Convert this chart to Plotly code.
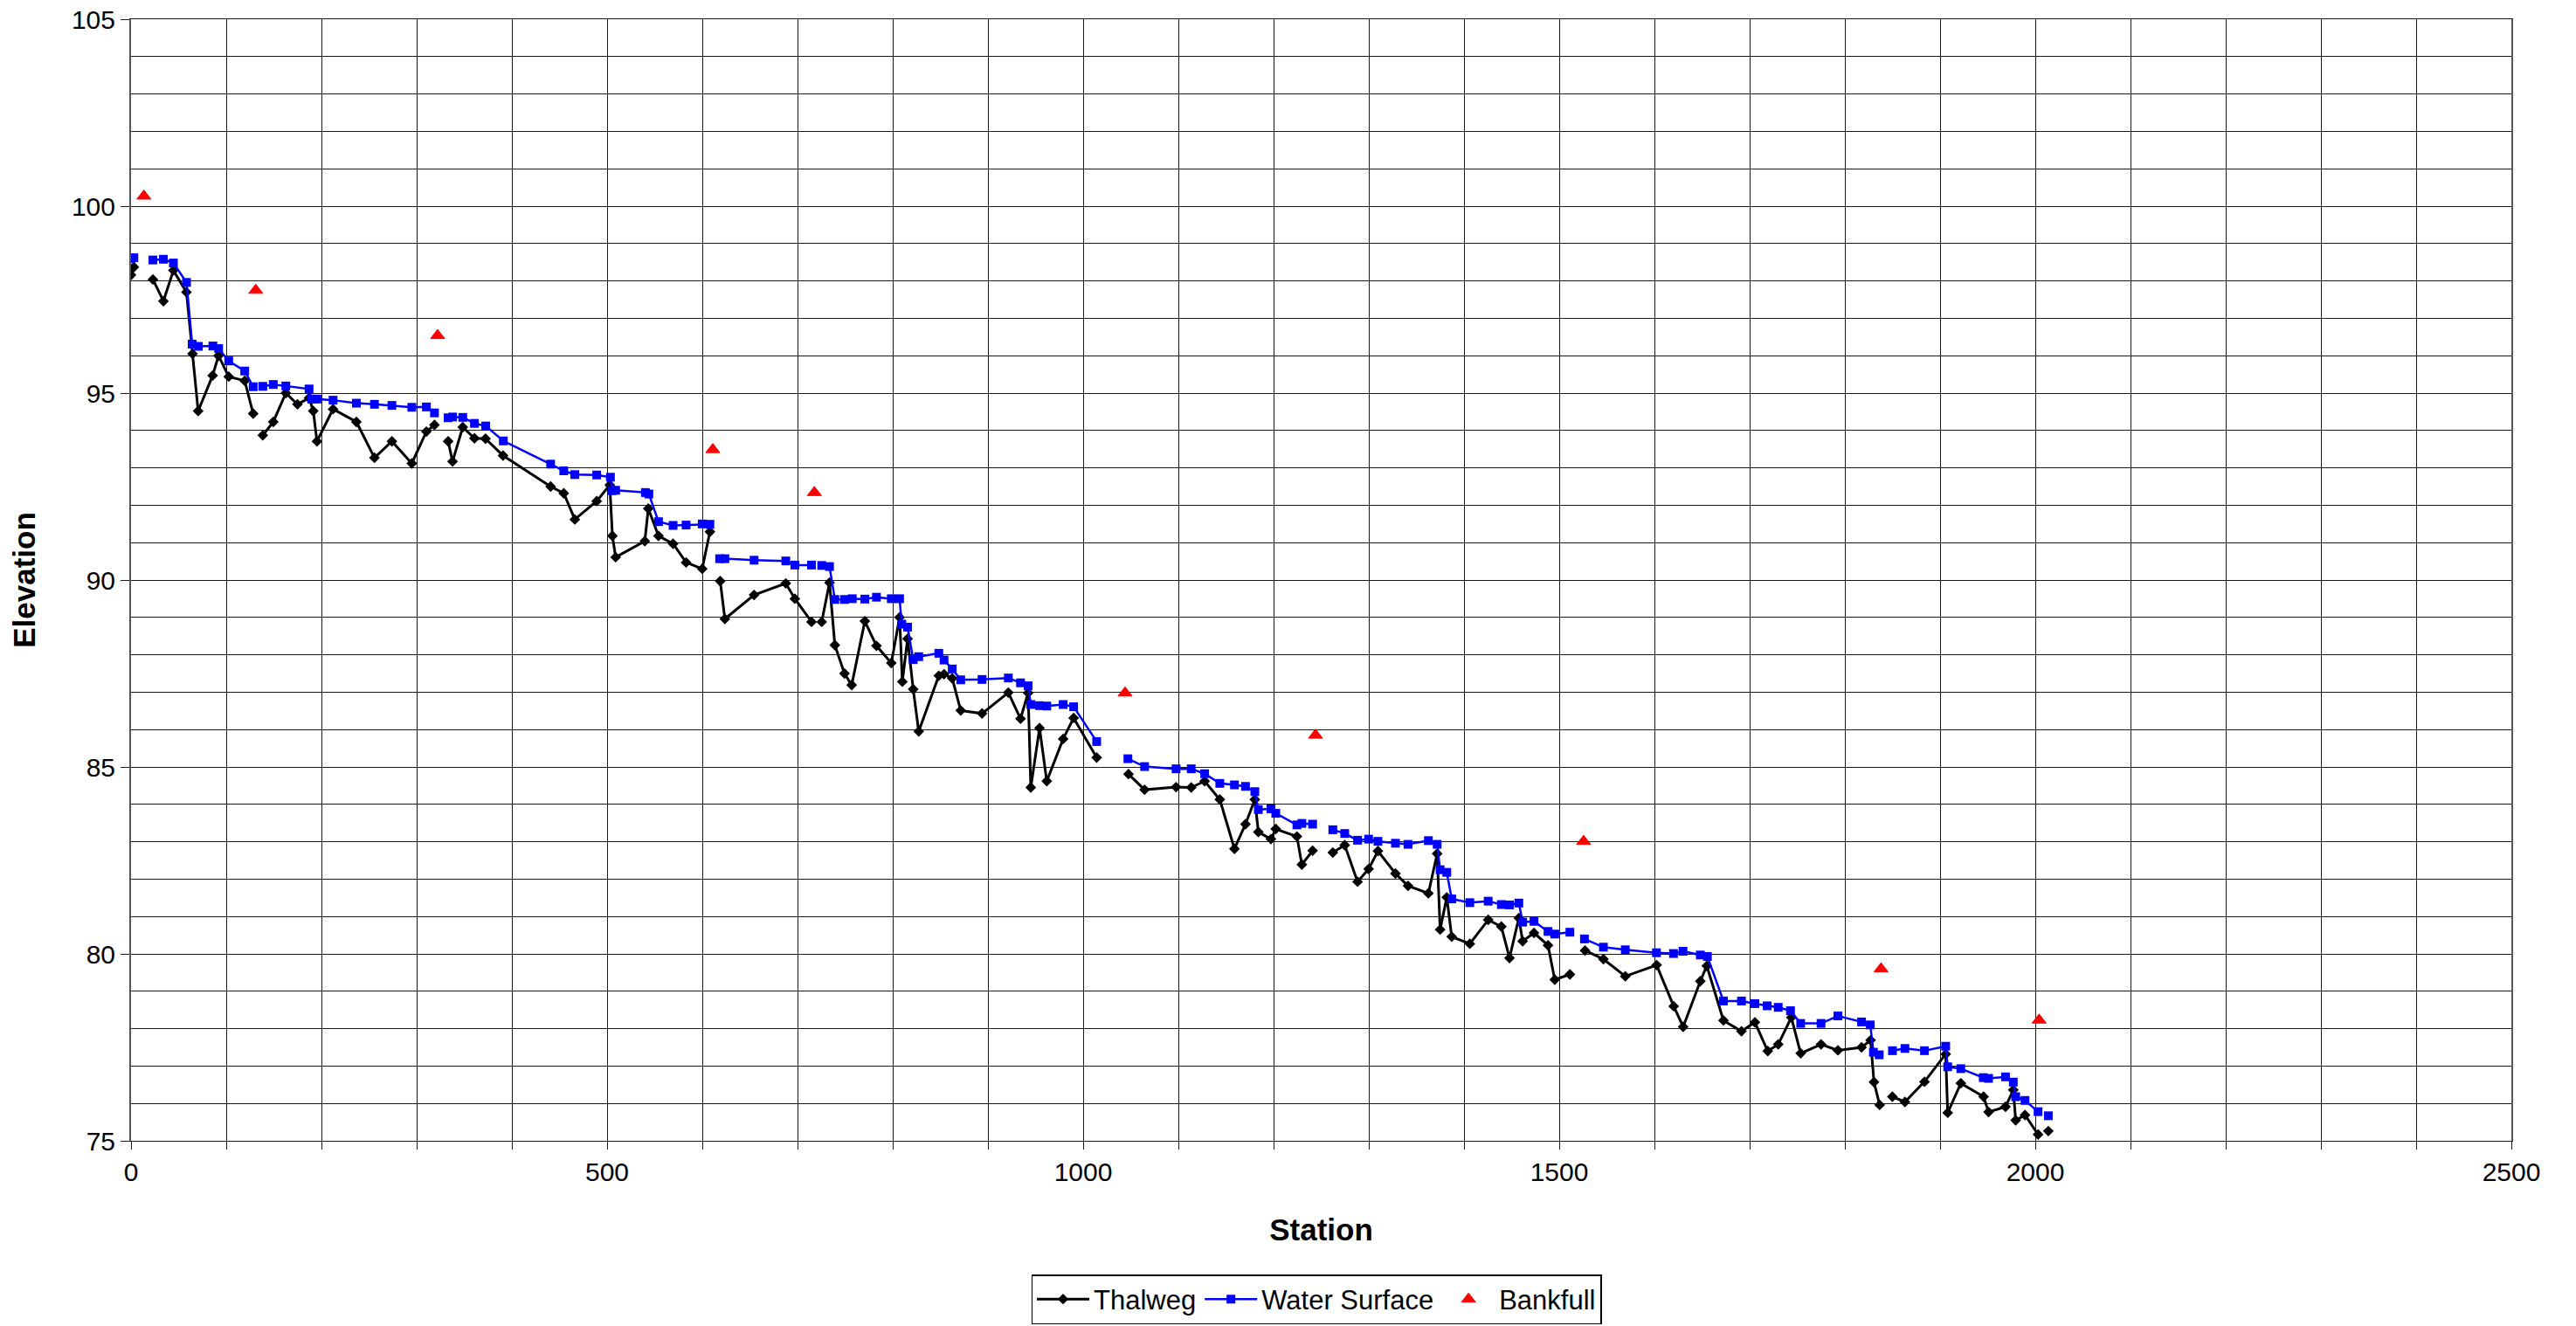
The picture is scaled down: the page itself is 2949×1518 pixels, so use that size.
import plotly.graph_objects as go

# Thalweg profile (None = break in the line, where a bankfull row sits)
thalweg_station = [
    0, 3, None,
    23, 34, 44.5, 58.2, 64.6, 70.5, 85.7, 91.9, 102.6, 119.4, 128.3, None,
    138.4, 149.4, 162.6, 174.8, 187, 191.4, 195.3, 212.2, 236.7, 255.7, 274, 294.9,
    310.2, 318.7, None,
    333.1, 337.7, 348.4, 360.7, 372.3, 390.7, 440.7, 454.5, 466.1, 489.1, 502.8,
    505.6, 509, 539.6, 543.3, 554, 569.3, 583, 599.9, 608, None,
    618.8, 623.7, 654.4, 687.7, 697.2, 714.7, None,
    725.4, 733.6, 739.2, 749.3, 756.9, 770.7, 782.9, 798.5, 807.2, 810.1, 815.6,
    821.5, 827.3, 848.4, 853.9, 862.5, 871.4, 893.8, 921.4, 934.2, 942.2, 945,
    954.2, 961.8, 979, 990, 1014.2, None,
    1047.6, 1064.5, 1097.6, 1113.5, 1127.6, 1143.5, 1158.9, 1170.5, 1180.3, 1184,
    1197.2, 1202.3, 1224.5, 1229.7, 1241, None,
    1262.2, 1274.7, 1288.2, 1299.8, 1309.6, 1328, 1341.2, 1362.6, 1371.8, 1374.9,
    1381.9, 1387.1, 1406.1, 1425.4, 1439.2, 1447.8, 1457.6, 1461.6, 1473.5, 1488.2,
    1495.3, 1511.2, None,
    1527.1, 1546.4, 1569.4, 1602.3, 1620.2, 1630.2, 1648.2, 1655, 1672.5, 1691.4,
    1705.5, 1719, 1730, 1743.8, 1753.6, 1775, 1792.7, 1817.5, 1827, 1830.6, 1836.5, None,
    1849.9, 1863.1, 1883.6, 1905.9, 1908, 1921.8, 1945.7, 1950.9, 1968.7, 1976.9,
    1979.4, 1989.2, 2002.9, None,
    2013.7,
]
thalweg_elev = [
    98.16, 98.37, None,
    98.04, 97.46, 98.28, 97.70, 96.05, 94.52, 95.47, 96.0, 95.44, 95.33, 94.45, None,
    93.87, 94.23, 95.0, 94.70, 94.87, 94.52, 93.71, 94.57, 94.23, 93.27, 93.71, 93.12,
    93.97, 94.15, None,
    93.71, 93.17, 94.09, 93.79, 93.78, 93.33, 92.50, 92.32, 91.62, 92.11, 92.54,
    91.18, 90.61, 91.04, 91.91, 91.18, 90.97, 90.47, 90.30, 91.29, None,
    89.97, 88.96, 89.60, 89.91, 89.50, 88.88, None,
    88.88, 89.93, 88.26, 87.50, 87.19, 88.90, 88.24, 87.78, 89.0, 87.28, 88.43,
    87.08, 85.95, 87.44, 87.48, 87.37, 86.51, 86.43, 86.99, 86.29, 86.98, 84.45,
    86.04, 84.62, 85.75, 86.31, 85.25, None,
    84.81, 84.39, 84.46, 84.45, 84.62, 84.13, 82.81, 83.47, 84.13, 83.26,
    83.07, 83.34, 83.14, 82.39, 82.76, None,
    82.71, 82.91, 81.93, 82.27, 82.75, 82.15, 81.82, 81.62, 82.68, 80.65,
    81.51, 80.46, 80.27, 80.91, 80.73, 79.89, 80.96, 80.34, 80.56, 80.23,
    79.31, 79.45, None,
    80.09, 79.86, 79.40, 79.70, 78.60, 78.05, 79.27, 79.68, 78.22, 77.93,
    78.17, 77.40, 77.58, 78.30, 77.34, 77.58, 77.42, 77.50, 77.69, 76.57, 75.96, None,
    76.18, 76.04, 76.58, 77.32, 75.75, 76.54, 76.18, 75.77, 75.91, 76.36,
    75.55, 75.69, 75.17, None,
    75.26,
]

# Water surface profile
ws_station = [
    0, 3, None,
    23, 34, 44.5, 58.3, 64.2, 70.7, 86, 92, 102.6, 119.4, 128.3, None,
    138.4, 149.4, 162.6, 187, 189.8, 195.3, 212.2, 236.7, 255.7, 274, 294.9, 310.2,
    318.7, None,
    333, 337.7, 348.4, 360.7, 372.5, 391, 440.7, 454.5, 466.1, 489.1, 503.5, 505.5,
    509, 540.2, 543.9, 554, 569.3, 583, 599.9, 608, None,
    618.2, 623.7, 654.4, 687.7, 697.2, 714.7, None,
    725.4, 733.6, 739.2, 749.3, 757.5, 770.7, 782.9, 798.5, 807.2, 809.5, 815.6,
    821.5, 827.3, 848.4, 853.9, 862.5, 871.4, 893.8, 921.4, 934.2, 942.2, 945,
    954.2, 961.8, 979, 990, 1014.2, None,
    1047, 1064.5, 1097.6, 1113.5, 1127.6, 1143.5, 1158.9, 1170.5, 1180.3, 1184,
    1197.2, 1202.3, 1224.5, 1229.7, 1241, None,
    1262.2, 1274.7, 1288.2, 1299.8, 1309.6, 1328, 1341.2, 1362.6, 1371.8, 1374.9,
    1381.9, 1387.1, 1406.1, 1425.4, 1439.2, 1447.8, 1457.6, 1461.6, 1473.5, 1488.2,
    1495.3, 1511.2, None,
    1526.5, 1546.4, 1569.4, 1602.1, 1620, 1630, 1648.2, 1655.6, 1672.5, 1691.4,
    1705.5, 1718.4, 1730, 1742.9, 1753.6, 1775, 1792.7, 1817.5, 1826.7, 1830, 1836.1, None,
    1850, 1863.1, 1883.6, 1905.9, 1908, 1921.8, 1945.4, 1950.9, 1968.7, 1976.9,
    1979.4, 1989.2, 2002.9, None,
    2013.7,
]
ws_elev = [
    98.60, 98.62, None,
    98.56, 98.58, 98.48, 97.96, 96.31, 96.25, 96.26, 96.19, 95.86, 95.59, 95.17, None,
    95.18, 95.23, 95.19, 95.11, 94.84, 94.84, 94.81, 94.73, 94.70, 94.67, 94.62, 94.63,
    94.47, None,
    94.34, 94.36, 94.35, 94.19, 94.12, 93.72, 93.10, 92.92, 92.82, 92.81, 92.75, 92.39,
    92.40, 92.34, 92.30, 91.56, 91.46, 91.47, 91.50, 91.49, None,
    90.57, 90.57, 90.53, 90.51, 90.40, 90.40, None,
    90.39, 90.36, 89.48, 89.48, 89.50, 89.49, 89.54, 89.50, 89.50, 88.82, 88.74,
    87.87, 87.95, 88.04, 87.86, 87.62, 87.33, 87.34, 87.38, 87.25, 87.17, 86.67,
    86.64, 86.63, 86.67, 86.61, 85.68, None,
    85.22, 85.01, 84.95, 84.95, 84.82, 84.56, 84.52, 84.48, 84.34, 83.86,
    83.88, 83.76, 83.45, 83.49, 83.47, None,
    83.32, 83.22, 83.04, 83.07, 83.01, 82.96, 82.93, 83.03, 82.93, 82.25,
    82.18, 81.47, 81.37, 81.41, 81.32, 81.31, 81.36, 80.85, 80.87, 80.60,
    80.53, 80.58, None,
    80.40, 80.18, 80.11, 80.03, 80.01, 80.07, 79.97, 79.93, 78.74, 78.74,
    78.67, 78.61, 78.57, 78.48, 78.14, 78.14, 78.34, 78.18, 78.10, 77.37, 77.30, None,
    77.41, 77.47, 77.41, 77.53, 76.98, 76.93, 76.69, 76.67, 76.71, 76.57,
    76.18, 76.08, 75.78, None,
    75.67,
]

# Bankfull indicators
bankfull_station = [13.5, 131, 322, 611, 717.7, 1044, 1244, 1525.6, 1838, 2004]
bankfull_elev = [100.27, 97.75, 96.54, 93.49, 92.34, 86.98, 85.85, 83.01, 79.60, 78.23]

FONT = "Liberation Sans, Arial, sans-serif"
GRID = "#1a1a1a"
W, H = 2949, 1518
PAGE_OFFSET = 8  # page body margin pushes the graph down/right by this much

fig = go.Figure()
fig.add_trace(go.Scatter(
    x=thalweg_station, y=thalweg_elev, mode="lines+markers", name="Thalweg",
    line=dict(color="black", width=3),
    marker=dict(symbol="diamond", size=9.5, color="black"),
    connectgaps=False,
))
fig.add_trace(go.Scatter(
    x=ws_station, y=ws_elev, mode="lines+markers", name="Water Surface",
    line=dict(color="#0000FF", width=2.5),
    marker=dict(symbol="square", size=10, color="#0000FF"),
    connectgaps=False,
))
fig.add_trace(go.Scatter(
    x=bankfull_station, y=bankfull_elev, mode="markers", name="Bankfull",
    marker=dict(symbol="triangle-up", size=14, color="#FF0000",
                line=dict(color="#FF0000", width=1)),
))

fig.update_layout(
    width=W,
    height=H,
    paper_bgcolor="white",
    plot_bgcolor="white",
    margin=dict(l=150 - PAGE_OFFSET, r=74 + PAGE_OFFSET,
                t=22 - PAGE_OFFSET, b=212 + PAGE_OFFSET, autoexpand=False),
    font=dict(family=FONT, size=30, color="black"),
    showlegend=True,
    legend=dict(
        orientation="h",
        xref="container", yref="container",
        x=(1507 - PAGE_OFFSET) / W, xanchor="center",
        y=(H - 1516 + PAGE_OFFSET) / H, yanchor="bottom",
        bordercolor="black", borderwidth=1.5,
        font=dict(size=31),
        itemwidth=60,
        tracegroupgap=0,
    ),
)
fig.update_xaxes(
    range=[0, 2500],
    dtick=500,
    tick0=0,
    automargin=False,
    ticklabeloverflow="allow",
    showgrid=True, gridcolor=GRID, gridwidth=1,
    ticks="outside", ticklen=9, tickcolor=GRID,
    minor=dict(dtick=100, showgrid=True, gridcolor=GRID, gridwidth=1,
               ticks="outside", ticklen=9, tickcolor=GRID),
    showline=True, linecolor=GRID, linewidth=1, mirror=True,
    zeroline=False,
    tickfont=dict(size=30),
    title=dict(text="<b>Station</b>", font=dict(size=35), standoff=38),
)
fig.update_yaxes(
    range=[75, 105],
    dtick=5,
    tick0=75,
    automargin=False,
    ticklabeloverflow="allow",
    showgrid=True, gridcolor=GRID, gridwidth=1,
    ticks="outside", ticklen=10, tickcolor=GRID,
    minor=dict(dtick=1, showgrid=True, gridcolor=GRID, gridwidth=1),
    showline=True, linecolor="#555555", linewidth=2, mirror=True,
    zeroline=False,
    tickfont=dict(size=30),
    title=dict(text="<b>Elevation</b>", font=dict(size=35), standoff=33),
)

fig.write_html("out.html")
